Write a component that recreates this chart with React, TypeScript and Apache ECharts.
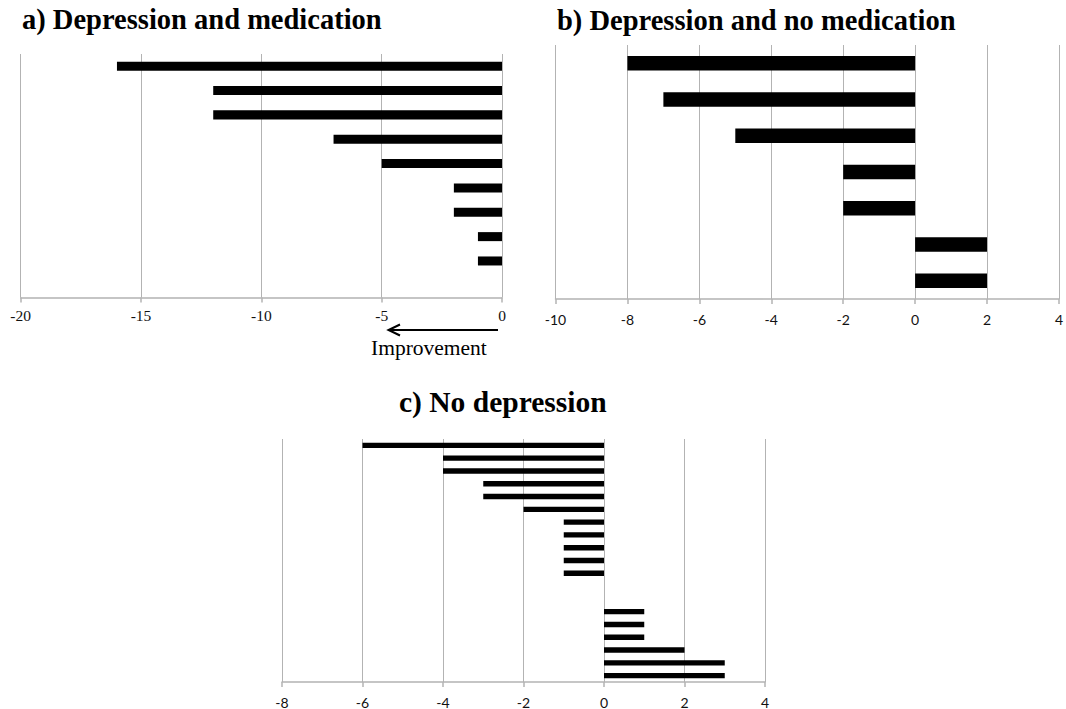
import React, { useEffect, useRef } from "react";
import * as echarts from "echarts";

// Panel a) Depression and medication
const categoriesA = ["1", "2", "3", "4", "5", "6", "7", "8", "9", "10"];
const valuesA: (number | null)[] = [-16, -12, -12, -7, -5, -2, -2, -1, -1, null];
const ticksA = [-20, -15, -10, -5, 0];

// Panel b) Depression and no medication
const categoriesB = ["1", "2", "3", "4", "5", "6", "7"];
const valuesB: (number | null)[] = [-8, -7, -5, -2, -2, 2, 2];
const ticksB = [-10, -8, -6, -4, -2, 0, 2, 4];

// Panel c) No depression
const categoriesC = [
  "1", "2", "3", "4", "5", "6", "7", "8", "9", "10",
  "11", "12", "13", "14", "15", "16", "17", "18", "19",
];
const valuesC: (number | null)[] = [
  -6, -4, -4, -3, -3, -2, -1, -1, -1, -1, -1, null, null, 1, 1, 1, 2, 3, 3,
];
const ticksC = [-8, -6, -4, -2, 0, 2, 4];

const titles = [
  "a) Depression and medication",
  "b) Depression and no medication",
  "c) No depression",
];
const annotation = "Improvement";

const GRID_COLOR = "#b3b3b3";

function xAxisFor(gridIndex: number, ticks: number[], font: string, size: number, margin: number) {
  return {
    type: "value",
    gridIndex,
    min: ticks[0],
    max: ticks[ticks.length - 1],
    interval: ticks[1] - ticks[0],
    axisLine: { show: true, onZero: false, lineStyle: { color: GRID_COLOR, width: 1.5 } },
    axisTick: { show: true, length: 5, lineStyle: { color: GRID_COLOR, width: 1.5 } },
    splitLine: { show: true, showMinLine: true, showMaxLine: true, lineStyle: { color: GRID_COLOR, width: 1 } },
    axisLabel: { fontFamily: font, fontSize: size, color: "#111", margin },
  };
}

function yAxisFor(gridIndex: number, cats: string[]) {
  return {
    type: "category",
    gridIndex,
    data: cats,
    inverse: true,
    axisLine: { show: false },
    axisTick: { show: false },
    axisLabel: { show: false },
    splitLine: { show: false },
  };
}

export default function App() {
  const ref = useRef<HTMLDivElement>(null);

  useEffect(() => {
    if (!ref.current) return;
    const chart = echarts.init(ref.current, undefined, { renderer: "svg" });
    const serif = "'Liberation Serif', 'Times New Roman', serif";
    const sans = "Lato, 'Open Sans', sans-serif";

    chart.setOption({
      animation: false,
      backgroundColor: "#ffffff",
      title: [
        {
          text: titles[0], left: 22, top: 5, padding: 0,
          textStyle: { fontFamily: serif, fontWeight: "bold", fontSize: 28.5, color: "#000" },
        },
        {
          text: titles[1], left: 557, top: 6, padding: 0,
          textStyle: { fontFamily: serif, fontWeight: "bold", fontSize: 28.5, color: "#000" },
        },
        {
          text: titles[2], left: 399, top: 387, padding: 0,
          textStyle: { fontFamily: serif, fontWeight: "bold", fontSize: 29.5, color: "#000" },
        },
      ],
      grid: [
        { left: 20.7, top: 54, width: 481.3, height: 243.5, containLabel: false },
        { left: 555.5, top: 45, width: 508.8, height: 254, containLabel: false },
        { left: 282, top: 439, width: 483, height: 243, containLabel: false },
      ],
      xAxis: [
        xAxisFor(0, ticksA, serif, 15.5, 10),
        xAxisFor(1, ticksB, sans, 14, 13),
        xAxisFor(2, ticksC, sans, 14, 13),
      ],
      yAxis: [yAxisFor(0, categoriesA), yAxisFor(1, categoriesB), yAxisFor(2, categoriesC)],
      series: [
        {
          type: "bar", xAxisIndex: 0, yAxisIndex: 0, data: valuesA,
          barWidth: "37%", itemStyle: { color: "#000" },
        },
        {
          type: "bar", xAxisIndex: 1, yAxisIndex: 1, data: valuesB,
          barWidth: "40%", itemStyle: { color: "#000" },
        },
        {
          type: "bar", xAxisIndex: 2, yAxisIndex: 2, data: valuesC,
          barWidth: "42%", itemStyle: { color: "#000" },
        },
      ],
      graphic: [
        {
          type: "line",
          shape: { x1: 498, y1: 330, x2: 390, y2: 330 },
          style: { stroke: "#000", lineWidth: 2 },
        },
        {
          type: "polyline",
          shape: { points: [[400, 324.5], [388.5, 330], [400, 335.5]] },
          style: { stroke: "#000", lineWidth: 2, fill: null },
        },
        {
          type: "text",
          x: 371,
          y: 337,
          style: {
            text: annotation,
            fontFamily: serif,
            fontSize: 21.5,
            fill: "#000",
            textAlign: "left",
            textVerticalAlign: "top",
          },
        },
      ],
    });

    return () => chart.dispose();
  }, []);

  return (
    <div
      ref={ref}
      style={{ position: "absolute", left: 0, top: 0, width: 1066, height: 709, background: "#fff" }}
    />
  );
}
